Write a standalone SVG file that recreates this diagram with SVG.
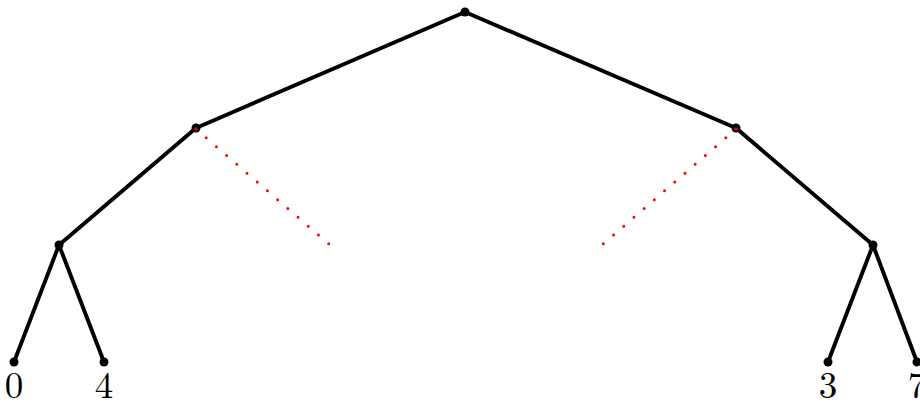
<svg xmlns="http://www.w3.org/2000/svg" width="920" height="403" viewBox="0 0 920 403">
<style>
.e{stroke:#000;stroke-width:3.9;fill:none;stroke-linecap:round}
.d{stroke:#f00;stroke-width:3;fill:none;stroke-linecap:round;stroke-dasharray:0 13.5}
.n{fill:#000}
.r{fill:#f00}
.t{font-family:"Latin Modern Roman","Liberation Serif",serif;font-size:37px;fill:#000;text-anchor:middle}
</style>
<g id="connectors">
<line class="e" x1="465" y1="12" x2="196" y2="128"/>
<line class="e" x1="465" y1="12" x2="736" y2="128"/>
<line class="e" x1="196" y1="128" x2="59" y2="245"/>
<line class="e" x1="736" y1="128" x2="873" y2="245"/>
<line class="e" x1="59" y1="245" x2="14" y2="362"/>
<line class="e" x1="59" y1="245" x2="104" y2="362"/>
<line class="e" x1="873" y1="245" x2="828" y2="362"/>
<line class="e" x1="873" y1="245" x2="917" y2="362"/>
<line class="d" x1="196" y1="129" x2="330" y2="245"/>
<line class="d" x1="736" y1="129" x2="602" y2="245"/>
</g>
<g id="root"><circle class="n" cx="465" cy="12" r="4.5"/></g>
<g id="n1"><circle class="n" cx="196" cy="128" r="4.5"/><circle class="r" cx="196" cy="129" r="1.7"/></g>
<g id="n2"><circle class="n" cx="736" cy="128" r="4.5"/><circle class="r" cx="736" cy="129" r="1.7"/></g>
<g id="n3"><circle class="n" cx="59" cy="245" r="4.5"/></g>
<g id="n4"><circle class="n" cx="873" cy="245" r="4.5"/></g>
<g id="leaf0"><circle class="n" cx="14" cy="362" r="4.5"/><text class="t" x="14" y="398">0</text></g>
<g id="leaf4"><circle class="n" cx="104" cy="362" r="4.5"/><text class="t" x="104" y="398">4</text></g>
<g id="leaf3"><circle class="n" cx="828" cy="362" r="4.5"/><text class="t" x="828" y="398">3</text></g>
<g id="leaf7"><circle class="n" cx="917" cy="362" r="4.5"/><text class="t" x="917" y="398">7</text></g>
</svg>
